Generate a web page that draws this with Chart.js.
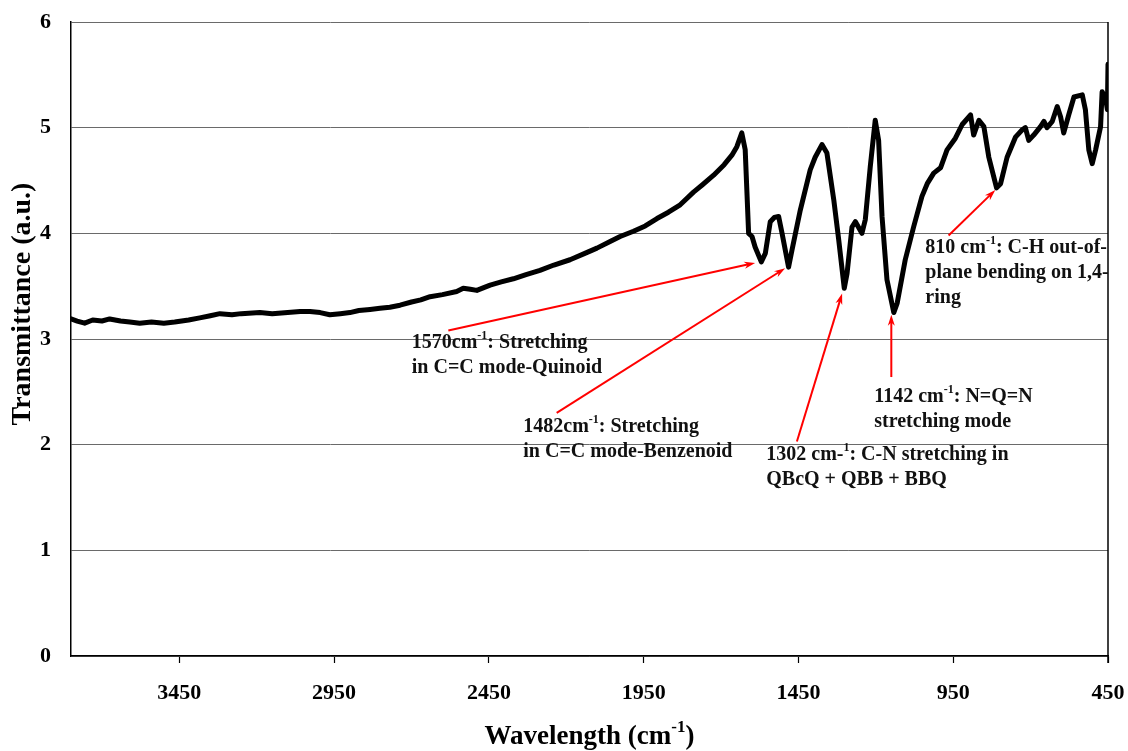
<!DOCTYPE html>
<html>
<head>
<meta charset="utf-8">
<script src="https://cdn.jsdelivr.net/npm/chart.js@4/dist/chart.umd.min.js"></script>
<style>
  html, body { margin: 0; padding: 0; background: #fff; }
  #wrap { width: 1128px; height: 751px; }
</style>
</head>
<body>
<div id="wrap"><canvas id="c" width="1128" height="751"></canvas></div>
<script>
// FTIR spectrum: wavenumber (cm-1) and transmittance (a.u.)
const wavenumbers = [
  3800, 3780, 3756, 3730, 3700, 3675, 3640, 3610, 3578, 3540, 3500, 3465, 3420, 3384, 3350,
  3319, 3280, 3250, 3190, 3150, 3100, 3060, 3028, 2995, 2964, 2930, 2899, 2870, 2834, 2802,
  2770, 2737, 2700, 2670, 2640, 2600, 2554, 2533, 2510, 2489, 2446, 2410, 2371, 2330, 2285,
  2240, 2188, 2140, 2101, 2060, 2026, 1983, 1945, 1907, 1870, 1832, 1789, 1760, 1724, 1690,
  1665, 1649, 1633, 1622, 1611, 1600, 1590, 1570, 1557, 1541, 1528, 1514, 1503, 1482, 1471,
  1444, 1412, 1396, 1374, 1358, 1336, 1320, 1302, 1293, 1277, 1266, 1245, 1234, 1218, 1202,
  1191, 1180, 1164, 1142, 1131, 1105, 1078, 1051, 1034, 1013, 991, 970, 943, 921, 894,
  884, 867, 851, 835, 810, 797, 776, 749, 727, 717, 706, 690, 668, 657, 647,
  630, 614, 603, 593, 577, 560, 533, 523, 512, 501, 490, 474, 469, 458, 452,
  450
];
const transmittance = [
  3.19, 3.17, 3.15, 3.18, 3.17, 3.19, 3.17, 3.16, 3.15, 3.16, 3.15, 3.16, 3.18, 3.20, 3.22,
  3.24, 3.23, 3.24, 3.25, 3.24, 3.25, 3.26, 3.26, 3.25, 3.23, 3.24, 3.25, 3.27, 3.28, 3.29,
  3.30, 3.32, 3.35, 3.37, 3.40, 3.42, 3.45, 3.48, 3.47, 3.46, 3.51, 3.54, 3.57, 3.61, 3.65,
  3.70, 3.75, 3.81, 3.86, 3.92, 3.97, 4.02, 4.07, 4.14, 4.20, 4.27, 4.39, 4.46, 4.55, 4.65,
  4.74, 4.82, 4.95, 4.79, 4.00, 3.97, 3.87, 3.73, 3.81, 4.11, 4.15, 4.16, 4.00, 3.68, 3.84,
  4.22, 4.60, 4.72, 4.84, 4.76, 4.32, 3.94, 3.48, 3.62, 4.06, 4.11, 4.00, 4.13, 4.63, 5.07,
  4.88, 4.16, 3.56, 3.25, 3.34, 3.75, 4.06, 4.35, 4.47, 4.57, 4.62, 4.79, 4.90, 5.03, 5.12,
  4.93, 5.07, 5.01, 4.72, 4.43, 4.47, 4.72, 4.91, 4.98, 5.00, 4.88, 4.93, 5.01, 5.06, 5.00,
  5.06, 5.20, 5.10, 4.95, 5.12, 5.29, 5.31, 5.17, 4.79, 4.66, 4.79, 5.01, 5.34, 5.28, 5.17,
  5.60
];
const xTicks = [3450, 2950, 2450, 1950, 1450, 950, 450];
const yTicks = [0, 1, 2, 3, 4, 5, 6];

// Band assignments: text anchor, arrow tail and arrow head in (wavenumber, transmittance)
const bandNotes = [
  { at: [2699, 2.96], lines: ['1570cm^{-1}: Stretching', 'in C=C mode-Quinoid'], from: [2581, 3.08], to: [1590, 3.72] },
  { at: [2339, 2.17], lines: ['1482cm^{-1}: Stretching', 'in C=C mode-Benzenoid'], from: [2231, 2.30], to: [1493, 3.67] },
  { at: [1554, 1.90], lines: ['1302 cm-^{1}: C-N stretching in', 'QBcQ + QBB + BBQ'], from: [1455, 2.03], to: [1309, 3.43] },
  { at: [1205, 2.45], lines: ['1142 cm^{-1}: N=Q=N', 'stretching mode'], from: [1150, 2.64], to: [1150, 3.23] },
  { at: [1040, 3.86], lines: ['810 cm^{-1}: C-H out-of-', 'plane bending on 1,4-', 'ring'], from: [965, 3.98], to: [814, 4.41] }
];

const SERIF = '"Liberation Serif", "Times New Roman", serif';

function splitRich(str) {
  return str.split(/(\^\{[^}]*\})/).filter(Boolean).map(p => {
    const m = p.match(/^\^\{([^}]*)\}$/);
    return m ? { text: m[1], sup: true } : { text: p, sup: false };
  });
}

function drawRich(ctx, str, x, y, size) {
  let cx = x;
  ctx.textAlign = 'left';
  ctx.textBaseline = 'middle';
  for (const p of splitRich(str)) {
    if (p.sup) {
      ctx.font = `bold ${Math.round(size * 0.62)}px ${SERIF}`;
      ctx.fillText(p.text, cx, y - size * 0.36);
    } else {
      ctx.font = `bold ${size}px ${SERIF}`;
      ctx.fillText(p.text, cx, y);
    }
    cx += ctx.measureText(p.text).width;
  }
  return cx - x;
}

function richWidth(ctx, str, size) {
  let w = 0;
  for (const p of splitRich(str)) {
    ctx.font = `bold ${p.sup ? Math.round(size * 0.62) : size}px ${SERIF}`;
    w += ctx.measureText(p.text).width;
  }
  return w;
}

function arrow(ctx, x1, y1, x2, y2) {
  const a = Math.atan2(y2 - y1, x2 - x1);
  const len = 11, half = 3.5;
  const c = Math.cos(a), s = Math.sin(a);
  ctx.beginPath();
  ctx.moveTo(x1, y1);
  ctx.lineTo(x2 - c * len * 0.6, y2 - s * len * 0.6);
  ctx.stroke();
  ctx.beginPath();
  ctx.moveTo(x2, y2);
  ctx.lineTo(x2 - c * len - s * half, y2 - s * len + c * half);
  ctx.lineTo(x2 - c * len * 0.7, y2 - s * len * 0.7);
  ctx.lineTo(x2 - c * len + s * half, y2 - s * len - c * half);
  ctx.closePath();
  ctx.fill();
}

const decorations = {
  id: 'decorations',
  afterDatasetsDraw(chart) {
    const { ctx, chartArea: ca, scales: { x, y } } = chart;
    ctx.save();
    // right frame line
    ctx.strokeStyle = '#000';
    ctx.lineWidth = 1.5;
    ctx.beginPath();
    ctx.moveTo(x.getPixelForValue(450), y.getPixelForValue(6));
    ctx.lineTo(x.getPixelForValue(450), y.getPixelForValue(0) + 7);
    ctx.stroke();

    // band arrows and labels
    ctx.strokeStyle = '#ff0000';
    ctx.fillStyle = '#ff0000';
    ctx.lineWidth = 2;
    for (const n of bandNotes) {
      arrow(ctx,
        x.getPixelForValue(n.from[0]), y.getPixelForValue(n.from[1]),
        x.getPixelForValue(n.to[0]), y.getPixelForValue(n.to[1]));
    }
    ctx.fillStyle = '#111';
    for (const n of bandNotes) {
      const tx = x.getPixelForValue(n.at[0]);
      let ty = y.getPixelForValue(n.at[1]);
      for (const line of n.lines) {
        drawRich(ctx, line, tx, ty, 20);
        ty += 25;
      }
    }

    // axis titles
    ctx.fillStyle = '#000';
    const xt = 'Wavelength (cm^{-1})';
    const w = richWidth(ctx, xt, 27);
    drawRich(ctx, xt, (ca.left + ca.right) / 2 - w / 2, 737, 27);

    ctx.translate(23, 304);
    ctx.rotate(-Math.PI / 2);
    ctx.font = `bold 28px ${SERIF}`;
    ctx.textAlign = 'center';
    ctx.textBaseline = 'middle';
    ctx.fillText('Transmittance (a.u.)', 0, 0);
    ctx.restore();
  }
};

const tickFont = { family: SERIF, size: 22, weight: 'bold' };

new Chart(document.getElementById('c'), {
  type: 'line',
  data: {
    datasets: [{
      data: wavenumbers.map((w, i) => ({ x: w, y: transmittance[i] })),
      borderColor: '#000',
      borderWidth: 5,
      borderJoinStyle: 'round',
      borderCapStyle: 'round',
      pointRadius: 0,
      tension: 0,
      fill: false
    }]
  },
  options: {
    responsive: false,
    animation: false,
    devicePixelRatio: 1,
    layout: { padding: { top: 22, right: 20, left: 0, bottom: 0 } },
    plugins: { legend: { display: false }, tooltip: { enabled: false } },
    scales: {
      x: {
        type: 'linear',
        reverse: true,
        min: 450,
        max: 3800,
        afterBuildTicks: s => { s.ticks = xTicks.map(v => ({ value: v })); },
        afterFit: s => { s.height = 95; s.paddingLeft = 0; s.paddingRight = 0; },
        ticks: { font: tickFont, color: '#000', padding: 17, maxRotation: 0, autoSkip: false, callback: v => String(v) },
        grid: { drawOnChartArea: false, drawTicks: true, tickLength: 7, tickColor: '#000', tickWidth: 1.2 },
        border: { color: '#000', width: 1.5 }
      },
      y: {
        min: 0,
        max: 6,
        afterBuildTicks: s => { s.ticks = yTicks.map(v => ({ value: v })); },
        afterFit: s => { s.width = 71; s.paddingTop = 0; s.paddingBottom = 0; },
        ticks: { font: tickFont, color: '#000', padding: 20, callback: v => String(v) },
        grid: { color: '#6a6a6a', lineWidth: 1, drawTicks: false },
        border: { color: '#000', width: 1.5 }
      }
    }
  },
  plugins: [decorations]
});
</script>
</body>
</html>
